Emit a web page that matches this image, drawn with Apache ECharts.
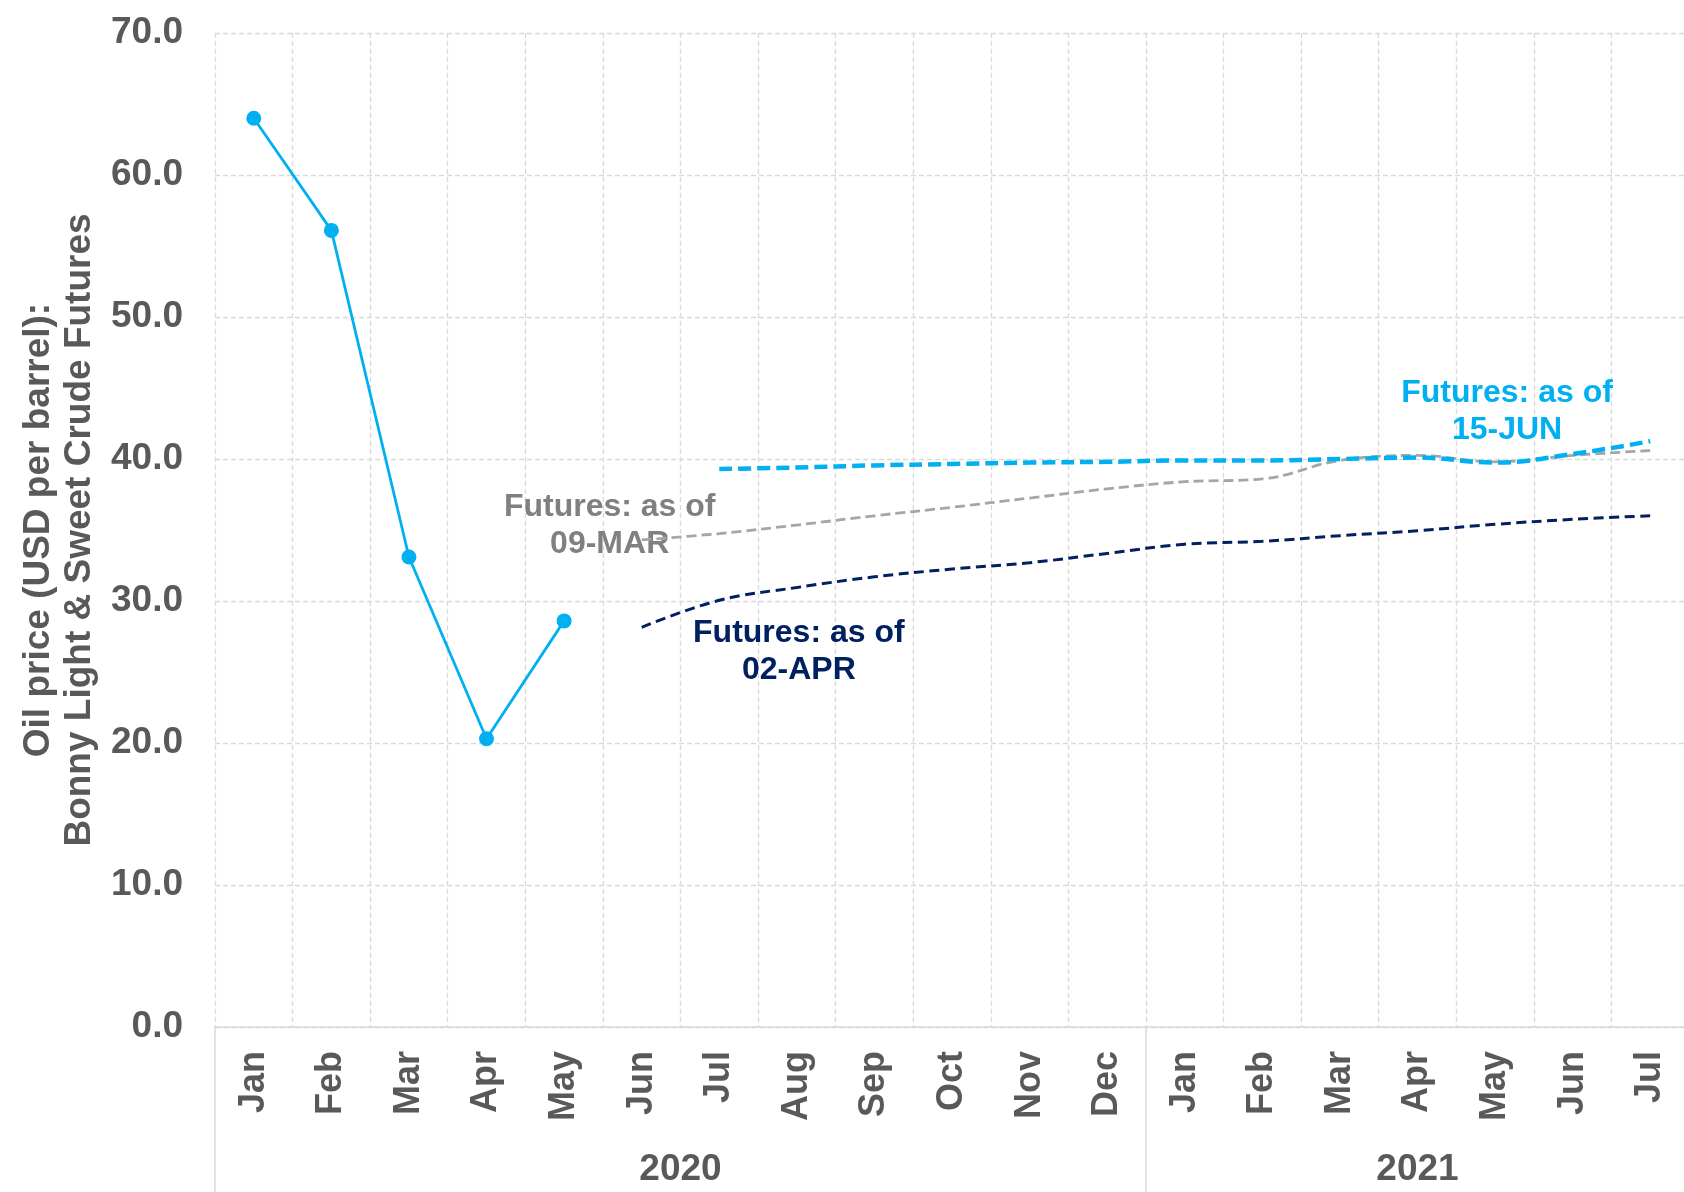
<!DOCTYPE html>
<html>
<head>
<meta charset="utf-8">
<title>Oil price: Bonny Light &amp; Sweet Crude Futures</title>
<script src="https://cdn.jsdelivr.net/npm/echarts@6/dist/echarts.min.js"></script>
<style>
  html, body { margin: 0; padding: 0; background: #ffffff; }
  #chart { width: 1684px; height: 1192px; }
</style>
</head>
<body>
<div id="chart"></div>
<script>
// Months on the horizontal axis and the year each one belongs to
const months = ['Jan','Feb','Mar','Apr','May','Jun','Jul','Aug','Sep','Oct','Nov','Dec',
                'Jan','Feb','Mar','Apr','May','Jun','Jul'];
const monthYears = ['2020','2020','2020','2020','2020','2020','2020','2020','2020','2020','2020','2020',
                    '2021','2021','2021','2021','2021','2021','2021'];

// Monthly average spot price (USD per barrel)
const actualPrice = [64.0, 56.1, 33.1, 20.3, 28.6, null, null, null, null, null, null, null,
                     null, null, null, null, null, null, null];

// Futures curves, by the date they were taken
const futures09Mar = [null, null, null, null, null, 34.3, 34.75, 35.35, 36.0, 36.6, 37.25, 37.9,
                      38.4, 38.6, 39.9, 40.25, 39.8, 40.25, 40.6];
const futures02Apr = [null, null, null, null, null, 28.15, 30.05, 30.95, 31.7, 32.25, 32.7, 33.35,
                      34.0, 34.2, 34.6, 34.95, 35.4, 35.75, 36.0];
const futures15Jun = [null, null, null, null, null, null, 39.3, 39.4, 39.55, 39.65, 39.75, 39.8,
                      39.9, 39.9, 40.0, 40.1, 39.75, 40.35, 41.25];

// Curve labels
const label09Mar = 'Futures: as of\n09-MAR';
const label02Apr = 'Futures: as of\n02-APR';
const label15Jun = 'Futures: as of\n15-JUN';

// Y axis ticks
const yMin = 0, yMax = 70, yStep = 10;

const FONT = '"Liberation Sans", Arial, Helvetica, sans-serif';
const TEXT = '#595959';
const GRID = '#D9D9D9';
const SKY = '#00B0F0';
const NAVY = '#002060';
const GREY = '#A6A6A6';

// Unique category keys so repeated month names stay separate
const categories = months.map((m, i) => m + ' ' + monthYears[i]);

// Year captions sit in the middle of the months each year covers
const yearCentres = {};
monthYears.forEach((y, i) => {
  if (!yearCentres[y]) yearCentres[y] = { first: i, count: 0 };
  yearCentres[y].count++;
});
const yearAt = {};
Object.keys(yearCentres).forEach(y => {
  const c = yearCentres[y];
  yearAt[(c.first + c.count / 2).toFixed(1)] = y;
});
// Tick marks below the axis separate the years
const yearStarts = Object.keys(yearCentres).map(y => yearCentres[y].first);

const noteStyle = (color) => ({
  show: true,
  position: 'inside',
  fontFamily: FONT,
  fontSize: 32,
  fontWeight: 'bold',
  lineHeight: 37,
  align: 'center',
  color: color
});

const chart = echarts.init(document.getElementById('chart'), null, { renderer: 'canvas' });

chart.setOption({
  animation: false,
  backgroundColor: '#ffffff',
  // The plot runs a little past the right edge of the page
  grid: { left: 215, top: 33, width: 1474, bottom: 165, outerBoundsMode: 'none', containLabel: false },
  xAxis: [
    {
      type: 'category',
      data: categories,
      boundaryGap: true,
      axisLine: { show: true, lineStyle: { color: GRID, width: 1.5 } },
      axisTick: {
        show: true,
        interval: (index) => yearStarts.indexOf(index) !== -1,
        length: 170,
        lineStyle: { color: GRID, width: 1.5 }
      },
      splitLine: {
        show: true,
        interval: 0,
        lineStyle: { color: GRID, width: 1.3, type: [5, 3] }
      },
      axisLabel: {
        interval: 0,
        rotate: 90,
        margin: 24,
        fontFamily: FONT,
        fontSize: 36,
        fontWeight: 'bold',
        color: TEXT,
        formatter: (v) => v.split(' ')[0]
      }
    },
    {
      type: 'value',
      position: 'bottom',
      min: 0,
      max: categories.length,
      interval: 0.5,
      axisLine: { show: false },
      axisTick: { show: false },
      splitLine: { show: false },
      axisLabel: {
        margin: 124,
        fontFamily: FONT,
        fontSize: 37,
        fontWeight: 'bold',
        color: TEXT,
        showMinLabel: true,
        showMaxLabel: true,
        formatter: (v) => yearAt[v.toFixed(1)] || ''
      }
    }
  ],
  yAxis: {
    type: 'value',
    min: yMin,
    max: yMax,
    interval: yStep,
    axisLine: { show: false },
    axisTick: { show: false },
    splitLine: { show: true, lineStyle: { color: GRID, width: 1.3, type: [5, 3] } },
    axisLabel: {
      margin: 32,
      fontFamily: FONT,
      fontSize: 37,
      fontWeight: 'bold',
      color: TEXT,
      formatter: (v) => v.toFixed(1)
    },
    name: 'Oil price (USD per barrel):\nBonny Light & Sweet Crude Futures',
    nameLocation: 'middle',
    nameRotate: 90,
    nameGap: 113,
    nameTextStyle: {
      fontFamily: FONT,
      fontSize: 37,
      fontWeight: 'bold',
      color: TEXT,
      lineHeight: 41,
      align: 'center'
    }
  },
  series: [
    {
      name: 'Futures 09-MAR',
      type: 'line',
      data: futures09Mar,
      smooth: 0.4,
      showSymbol: false,
      lineStyle: { color: GREY, width: 2.8, type: [10, 5] },
      markPoint: {
        symbol: 'circle',
        symbolSize: 0,
        silent: true,
        z: 1,
        data: [{ coord: [5, 35.3], value: 0 }],
        label: Object.assign(noteStyle('#808080'), { formatter: label09Mar, offset: [-32, 0] })
      },
      z: 2
    },
    {
      name: 'Futures 02-APR',
      type: 'line',
      data: futures02Apr,
      smooth: 0.4,
      showSymbol: false,
      lineStyle: { color: NAVY, width: 3, type: [10, 5.5] },
      markPoint: {
        symbol: 'circle',
        symbolSize: 0,
        silent: true,
        data: [{ coord: [7, 26.45], value: 0 }],
        label: Object.assign(noteStyle(NAVY), { formatter: label02Apr, offset: [2, 0] })
      },
      z: 2
    },
    {
      name: 'Futures 15-JUN',
      type: 'line',
      data: futures15Jun,
      smooth: 0.4,
      showSymbol: false,
      lineStyle: { color: SKY, width: 4.5, type: [13, 6] },
      markPoint: {
        symbol: 'circle',
        symbolSize: 0,
        silent: true,
        data: [{ coord: [16, 43.3], value: 0 }],
        label: Object.assign(noteStyle(SKY), { formatter: label15Jun, offset: [12, 0] })
      },
      z: 3
    },
    {
      name: 'Actual',
      type: 'line',
      data: actualPrice,
      symbol: 'circle',
      symbolSize: 15,
      showSymbol: true,
      itemStyle: { color: SKY },
      lineStyle: { color: SKY, width: 2.8 },
      z: 4
    }
  ]
});
</script>
</body>
</html>
